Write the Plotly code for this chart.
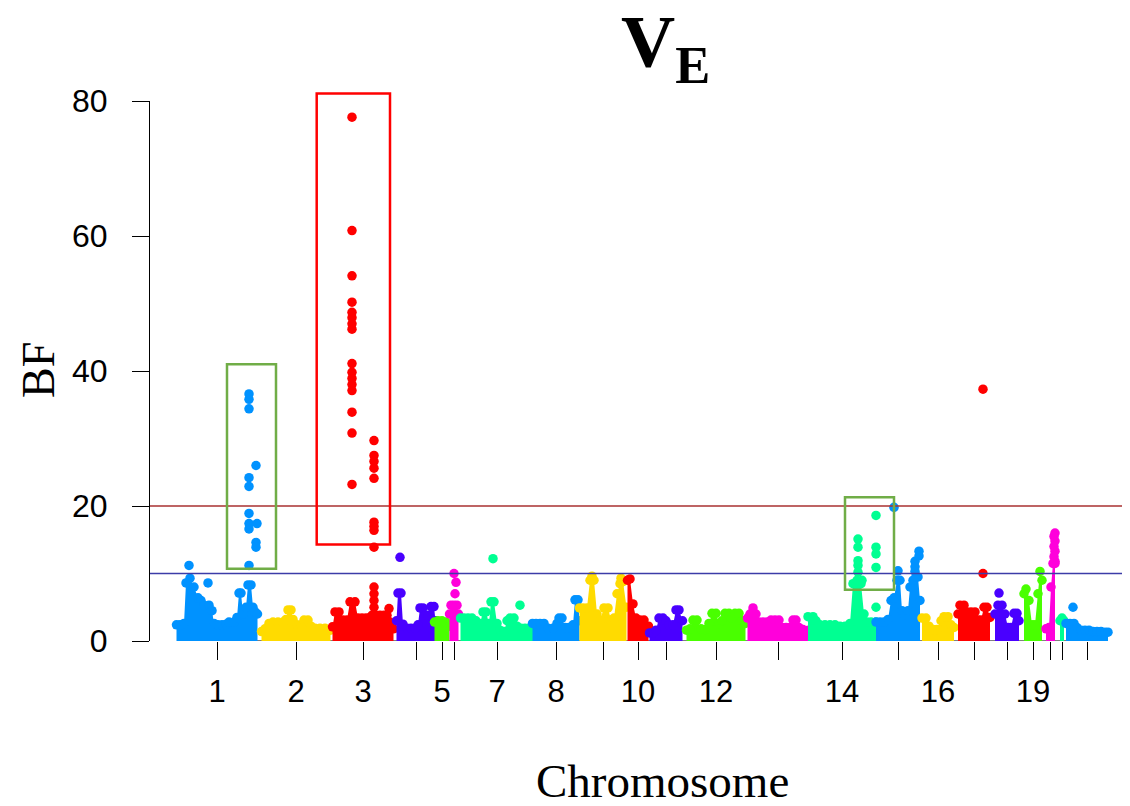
import plotly.graph_objects as go

# ---------------- data ----------------
# cumulative genomic position (Mb) and Bayes factor (BF)
# *_pos / *_bf : upper envelope of the dense SNP cloud per chromosome
# *_hit_pos / *_hit_bf : individual SNPs standing out of the cloud
chr1_pos = [6.5, 10, 14, 16, 20, 24, 28, 31, 34, 39, 42, 44, 48, 52, 56, 59, 64, 67, 69, 71, 73, 76, 78, 81, 83, 85, 87.5]
chr1_bf = [2.4, 2.4, 2.6, 8.6, 9.3, 8.0, 6.4, 6.0, 5.3, 5.3, 4.5, 2.6, 2.4, 2.4, 2.5, 2.8, 2.8, 3.5, 7.1, 7.1, 4.0, 5.0, 8.3, 8.3, 5.0, 4.3, 4.0]
chr1_hit_pos = [19, 38, 79, 79, 79, 86, 79, 79, 79, 79, 87, 79, 86, 86, 79]
chr1_hit_bf = [11.2, 8.6, 36.6, 35.8, 34.4, 26.0, 24.2, 22.9, 18.9, 17.4, 17.4, 16.6, 14.6, 13.9, 11.2]

chr2_pos = [91.5, 95, 99, 103, 108, 113, 116, 118, 121, 123, 127, 131, 134, 138, 141, 145, 150, 155, 160.5]
chr2_bf = [1.4, 1.8, 2.6, 2.8, 2.8, 2.8, 3.2, 4.6, 4.6, 3.2, 2.4, 2.4, 3.1, 3.1, 2.2, 1.9, 1.9, 1.9, 1.6]
chr2_hit_pos = []
chr2_hit_bf = []

chr3_pos = [162.5, 165, 169, 173, 177, 180, 185, 188, 192, 196, 199, 202, 204, 206, 210, 214, 217, 220, 223.5]
chr3_bf = [2.1, 4.3, 4.3, 3.1, 3.1, 5.8, 5.8, 3.4, 3.4, 3.4, 3.4, 3.8, 8.0, 3.8, 3.8, 3.8, 3.8, 2.8, 1.8]
chr3_hit_pos = [182, 182, 182, 182, 182, 182, 182, 182, 182, 182, 182, 182, 182, 182, 182, 182,
                204, 204, 204, 204, 204, 204, 204, 204, 204, 204, 204, 204, 219]
chr3_hit_bf = [77.6, 60.8, 54.1, 50.2, 48.7, 47.9, 47.0, 46.2, 41.1, 39.8, 38.9, 38.0, 37.1, 33.9, 30.8, 23.2,
               29.7, 27.5, 26.6, 25.6, 24.1, 17.6, 17.0, 16.4, 13.9, 7.0, 6.0, 5.0, 4.8]

chr4_pos = [226.5, 228, 231, 233, 237, 241, 245, 248, 250, 253, 255, 258, 261, 264, 265.5]
chr4_bf = [3.0, 7.1, 7.1, 2.5, 1.9, 1.9, 1.9, 2.4, 4.9, 4.9, 3.8, 3.8, 5.1, 5.1, 3.0]
chr4_hit_pos = [230]
chr4_hit_bf = [12.4]

chr5_pos = [264.5, 268, 272, 276, 279.5]
chr5_bf = [2.8, 3.0, 3.0, 2.8, 2.2]
chr5_hit_pos = []
chr5_hit_bf = []

chr6_pos = [279.5, 281, 284, 287, 288.5]
chr6_bf = [4.0, 5.3, 5.3, 5.3, 4.0]
chr6_hit_pos = [284, 286, 285]
chr6_hit_bf = [10.0, 8.7, 7.0]

chr7_pos = [290.5, 294, 298, 302, 306, 310, 313, 316, 319, 321, 324, 327, 330, 334, 337, 340, 344, 347, 351, 355, 359, 363.5]
chr7_bf = [3.4, 3.4, 3.4, 3.4, 3.0, 2.6, 4.3, 4.3, 2.6, 5.8, 5.8, 2.6, 1.6, 1.4, 3.0, 3.4, 3.4, 2.2, 1.9, 1.9, 1.9, 1.8]
chr7_hit_pos = [323, 350]
chr7_hit_bf = [12.2, 5.3]

chr8_pos = [362.5, 366, 370, 374, 378, 383, 387, 389, 392, 395, 399, 403, 405, 408, 409.5]
chr8_bf = [2.6, 2.6, 2.6, 2.6, 1.9, 1.9, 2.6, 3.4, 3.4, 2.0, 2.0, 2.4, 6.1, 6.1, 3.0]
chr8_hit_pos = []
chr8_hit_bf = []

chr9_pos = [409.5, 413, 417, 420, 424, 427, 430, 434, 438, 441, 444, 447, 450, 453, 456.5]
chr9_bf = [4.9, 4.9, 4.9, 9.0, 9.0, 4.0, 3.1, 4.9, 4.9, 3.1, 3.4, 7.0, 8.5, 8.8, 5.0]
chr9_hit_pos = [422, 451]
chr9_hit_bf = [9.6, 9.3]

chr10_pos = [457.5, 460, 463, 466, 470, 474, 478.5]
chr10_bf = [9.0, 9.2, 5.5, 3.4, 3.1, 3.1, 2.2]
chr10_hit_pos = []
chr10_hit_bf = []

chr11_pos = [479.5, 483, 486, 489, 493, 496, 499, 503, 506, 509, 512.5]
chr11_bf = [1.2, 1.2, 1.6, 3.4, 3.4, 3.0, 2.4, 2.4, 4.6, 4.6, 3.0]
chr11_hit_pos = []
chr11_hit_bf = []

chr12_pos = [516.5, 520, 523, 527, 531, 535, 539, 542, 546, 549, 552, 555, 559, 562, 565, 569, 572, 575.5]
chr12_bf = [1.6, 1.8, 3.1, 3.1, 1.8, 1.7, 2.6, 4.1, 4.1, 2.6, 3.0, 4.1, 4.1, 3.4, 4.1, 4.1, 3.0, 2.6]
chr12_hit_pos = []
chr12_hit_bf = []

chr13_pos = [577.5, 580, 583, 586, 589, 593, 597, 601, 605, 609, 612, 616, 620, 623, 626, 629, 633, 638.5]
chr13_bf = [3.4, 4.0, 4.9, 4.0, 2.8, 2.8, 2.8, 3.1, 3.1, 3.1, 2.0, 2.0, 2.0, 3.1, 3.1, 2.0, 1.7, 1.6]
chr13_hit_pos = []
chr13_hit_bf = []

chr14_pos = [638, 643, 646, 650, 655, 660, 665, 670, 675, 680, 683, 687, 691, 694, 697, 701, 706]
chr14_bf = [3.6, 3.6, 3.0, 2.4, 2.4, 2.4, 2.4, 2.2, 2.2, 2.6, 8.5, 9.0, 8.5, 4.0, 2.8, 2.8, 2.8]
chr14_hit_pos = [688, 688, 688, 688, 688, 692, 706, 706, 706, 706, 706]
chr14_hit_bf = [15.1, 13.9, 11.9, 11.2, 10.2, 9.0, 18.6, 13.9, 12.9, 10.9, 5.0]

chr15_pos = [706, 710, 714, 718, 721, 724, 727, 730, 732, 735, 738, 740, 743, 746, 748, 750]
chr15_bf = [2.8, 2.8, 2.8, 3.2, 6.0, 6.4, 9.0, 9.0, 4.5, 3.8, 4.5, 8.0, 9.0, 9.5, 9.5, 6.0]
chr15_hit_pos = [724, 728, 745, 745, 745, 749, 749]
chr15_hit_bf = [19.8, 10.4, 11.8, 11.0, 10.3, 13.3, 12.6]

chr16_pos = [752, 756, 759, 763, 767, 771, 774, 778, 781, 784]
chr16_bf = [3.4, 3.4, 2.2, 1.7, 1.7, 3.0, 3.6, 3.6, 2.4, 2.0]
chr16_hit_pos = []
chr16_hit_bf = []

chr17_pos = [788, 790, 794, 797, 801, 805, 808, 811, 814, 817, 820]
chr17_bf = [4.0, 5.3, 5.3, 4.3, 4.3, 4.3, 3.1, 3.1, 5.0, 5.0, 3.5]
chr17_hit_pos = [813, 813]
chr17_hit_bf = [37.3, 10.0]

chr18_pos = [825, 828, 832, 835, 838, 841, 844, 847, 849]
chr18_bf = [4.0, 5.3, 5.3, 4.0, 2.0, 2.0, 4.1, 4.1, 3.0]
chr18_hit_pos = [829]
chr18_hit_bf = [7.1]

chr19_pos = [854, 856, 859, 862, 865, 868, 870, 872]
chr19_bf = [7.0, 7.7, 6.0, 2.4, 2.4, 7.0, 10.3, 9.0]
chr19_hit_pos = []
chr19_hit_bf = []

chr20_pos = [876, 879, 881, 883, 885]
chr20_bf = [1.8, 2.0, 8.0, 11.5, 11.5]
chr20_hit_pos = [885, 884, 885, 884, 885, 884, 885]
chr20_hit_bf = [16.0, 15.5, 14.8, 14.0, 13.3, 12.5, 11.8]

chr21_pos = [890, 892, 894]
chr21_bf = [3.0, 3.4, 3.0]
chr21_hit_pos = []
chr21_hit_bf = []

chr22_pos = [896, 900, 904, 907, 911, 915, 919, 923, 927, 931, 935, 938]
chr22_bf = [2.6, 2.6, 2.6, 2.0, 1.6, 1.6, 1.6, 1.4, 1.4, 1.4, 1.3, 1.3]
chr22_hit_pos = [903]
chr22_hit_bf = [5.0]

chromosomes = list(range(1, 23))
shown_tick_labels = ["1", "2", "3", "5", "7", "8", "10", "12", "14", "16", "19"]
palette = ["#0092FF", "#FFDB00", "#FF0000", "#4900FF", "#49FF00", "#FF00DB", "#00FF92"]

strong_threshold = 20
suggestive_threshold = 10
y_ticks = [0, 20, 40, 60, 80]
y_max = 80

# highlighted regions: (pos_from, pos_to, bf_from, bf_to)
box_chr1 = [57, 106, 10.7, 41.0]
box_chr3 = [146.7, 220, 14.3, 81.1]
box_chr14 = [675, 724, 7.6, 21.3]

# ---------------- figure ----------------
g = globals()
fig = go.Figure()
all_ticks, lab_vals, lab_text, unlab_vals = [], [], [], []
for i, c in enumerate(chromosomes):
    col = palette[i % len(palette)]
    pos = g[f"chr{c}_pos"]
    bf = g[f"chr{c}_bf"]
    hpos = g[f"chr{c}_hit_pos"]
    hbf = g[f"chr{c}_hit_bf"]
    allpos = pos + hpos
    mid = (min(allpos) + max(allpos)) / 2
    all_ticks.append(mid)
    if str(c) in shown_tick_labels:
        lab_vals.append(mid)
        lab_text.append(str(c))
    else:
        unlab_vals.append(mid)
    fig.add_trace(go.Scatter(x=pos, y=bf, mode="lines+markers", fill="tozeroy",
                             fillcolor=col, line=dict(width=0, color=col),
                             marker=dict(size=9.5, color=col, line=dict(width=0)),
                             showlegend=False, hoverinfo="skip"))
    if hpos:
        fig.add_trace(go.Scatter(x=hpos, y=hbf, mode="markers",
                                 marker=dict(size=9.5, color=col, line=dict(width=0)),
                                 showlegend=False))

# the page has an 8px body margin: the figure is sized to end at the window edge
PAGE_OFF = 8
FIG_W, FIG_H = 1130 - PAGE_OFF, 806 - PAGE_OFF
PLOT_L, PLOT_R, PLOT_T, PLOT_B = 150 - PAGE_OFF, 0, 101 - PAGE_OFF, 806 - 641
x_range = [-20, 960]

fig.update_layout(
    width=FIG_W, height=FIG_H,
    margin=dict(l=PLOT_L, r=PLOT_R, t=PLOT_T, b=PLOT_B, pad=0),
    paper_bgcolor="white", plot_bgcolor="white",
    xaxis=dict(range=x_range, showgrid=False, zeroline=False, showline=False,
               tickmode="array", tickvals=lab_vals, ticktext=lab_text,
               ticks="outside", ticklen=18, tickwidth=1, tickcolor="black",
               tickfont=dict(family="Liberation Sans", size=31, color="black"),
               ticklabelstandoff=5,
               minor=dict(tickmode="array", tickvals=unlab_vals, ticks="outside",
                          ticklen=18, tickwidth=1, tickcolor="black", showgrid=False)),
    yaxis=dict(range=[0, y_max], showgrid=False, zeroline=False,
               showline=True, linecolor="black", linewidth=1,
               tickmode="array", tickvals=y_ticks,
               ticks="outside", ticklen=17, tickwidth=1, tickcolor="black",
               tickfont=dict(family="Liberation Sans", size=32, color="black"),
               ticklabelstandoff=18),
)

# threshold lines
fig.add_shape(type="line", xref="paper", x0=0, x1=1, yref="y",
              y0=strong_threshold, y1=strong_threshold,
              line=dict(color="#A83030", width=1.6), layer="above")
fig.add_shape(type="line", xref="paper", x0=0, x1=1, yref="y",
              y0=suggestive_threshold, y1=suggestive_threshold,
              line=dict(color="#3C3CA8", width=1.6), layer="above")
# x axis baseline between first and last chromosome tick
fig.add_shape(type="line", xref="x", x0=all_ticks[0], x1=all_ticks[-1], yref="y",
              y0=0, y1=0, line=dict(color="black", width=1), layer="below")

# highlight boxes (y in paper units so that they may exceed the axis range)
for box, col in [(box_chr1, "#70AD47"), (box_chr3, "#FF0000"), (box_chr14, "#70AD47")]:
    fig.add_shape(type="rect", xref="x", yref="paper",
                  x0=box[0], x1=box[1], y0=box[2] / y_max, y1=box[3] / y_max,
                  line=dict(color=col, width=2.5), fillcolor="rgba(0,0,0,0)", layer="above")

H = FIG_H - PLOT_T - PLOT_B
W = FIG_W - PLOT_L - PLOT_R
def px_to_paper(px, py):
    # page pixel -> paper coordinates
    return (px - PAGE_OFF - PLOT_L) / W, (FIG_H - PLOT_B - (py - PAGE_OFF)) / H

tx, ty = px_to_paper(665, 47)
fig.add_annotation(text="<b>V<sub>E</sub></b>", x=tx, y=ty, xref="paper", yref="paper",
                   xanchor="center", yanchor="middle", showarrow=False,
                   font=dict(family="Liberation Serif", size=75, color="black"))
bx, by = px_to_paper(38, 370)
fig.add_annotation(text="BF", x=bx, y=by, xref="paper", yref="paper", textangle=-90,
                   xanchor="center", yanchor="middle", showarrow=False,
                   font=dict(family="Liberation Serif", size=46, color="black"))
cx, cy = px_to_paper(662, 781)
fig.add_annotation(text="Chromosome", x=cx, y=cy, xref="paper", yref="paper",
                   xanchor="center", yanchor="middle", showarrow=False,
                   font=dict(family="Liberation Serif", size=47, color="black"))

fig.write_html("out.html")
